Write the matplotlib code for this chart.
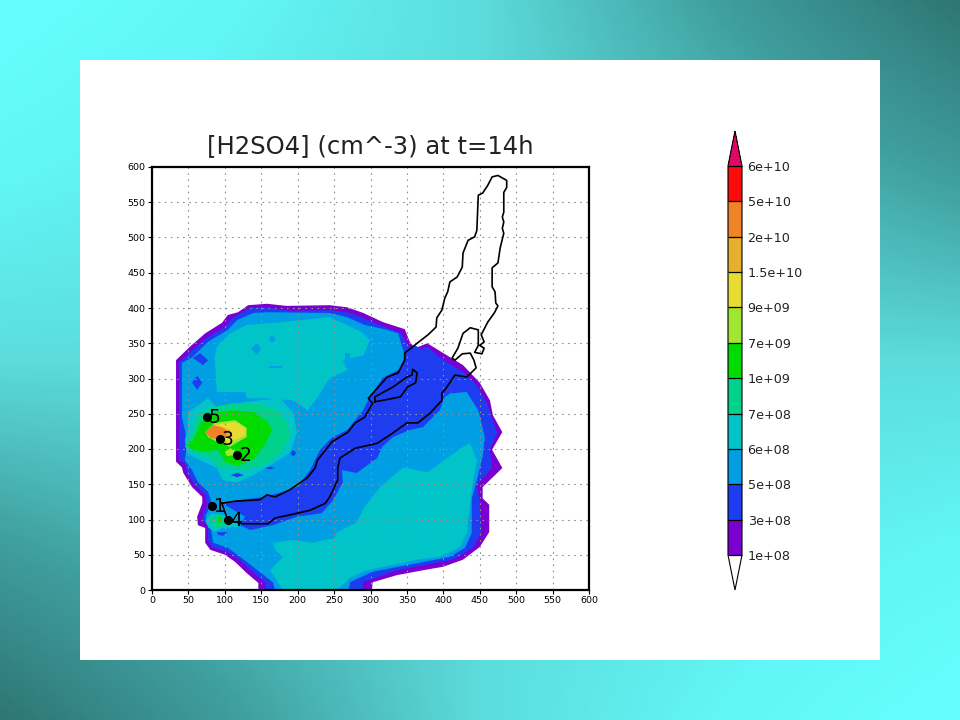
import numpy as np
import matplotlib
matplotlib.use('Agg')
from matplotlib import pyplot as plt
from matplotlib.colors import ListedColormap, BoundaryNorm, LinearSegmentedColormap
from matplotlib.cm import ScalarMappable
from matplotlib.patches import Rectangle

# contour levels and labels of the colour bar
levels = [1e8, 3e8, 5e8, 6e8, 7e8, 1e9, 7e9, 9e9, 1.5e10, 2e10, 5e10, 6e10]
level_labels = ['1e+08', '3e+08', '5e+08', '6e+08', '7e+08', '1e+09', '7e+09',
                '9e+09', '1.5e+10', '2e+10', '5e+10', '6e+10']
level_colors = ['#7a00d2', '#1e3cf0', '#009fe3', '#00c4c8', '#00d28c', '#00dc00',
                '#a0e632', '#e6dc32', '#e6af2d', '#f08228', '#fa0a0a']
over_color = '#dc0a64'

# contour regions, (x, y) in km
purple_zone = [(146,0),(146,10),(130,24),(114,40),(100,50),(80,57),(73,67),(73,88),(63,92),(62,104),
    (69,123),(69,132),(55,146),(43,166),(41,174),(33,182),(33,326),(52,345),(73,364),(96,379),
    (104,390),(118,394),(132,404),(158,406),(185,403),(244,404),(268,401),(290,393),(317,380),
    (347,370),(354,352),(361,343),(378,350),(400,336),(427,319),(450,294),(464,269),(468,248),
    (481,224),(467,199),(481,173),(454,146),(454,130),(463,121),(463,82),(450,61),(427,43),
    (400,33),(372,28),(336,21),(303,11),(302,0)]
blue_zone = [(157,0),(155,11),(135,28),(118,45),(103,54),(82,61),(77,71),(77,92),(70,95),(69,104),
    (76,123),(73,135),(59,149),(48,167),(45,180),(37,184),(37,323),(55,340),(77,359),(100,373),
    (110,386),(135,400),(158,401),(189,396),(244,397),(268,394),(290,386),(320,373),(343,364),
    (351,347),(361,337),(378,345),(395,330),(427,309),(446,291),(460,265),(474,223),(464,199),
    (467,173),(446,149),(450,128),(452,81),(441,60),(413,43),(372,35),(336,28),(290,11),(290,0)]
lightblue_zone = [(169,0),(166,11),(121,47),(104,60),(84,67),(80,92),(73,104),(82,123),(77,139),
    (63,153),(55,170),(45,184),(48,208),(45,227),(41,245),(41,322),(55,330),(77,352),(104,369),
    (117,383),(139,393),(158,394),(244,393),(268,387),(292,376),(323,369),(338,364),(346,336),
    (368,298),(413,279),(432,281),(448,255),(457,217),(454,189),(446,156),(439,130),(439,81),
    (430,60),(409,47),(364,38),(303,26),(272,11),(270,0)]
band_zone = [(96,123),(111,126),(152,132),(176,138),(199,146),(217,170),(231,199),(247,216),
    (268,227),(290,255),(299,274),(317,301),(338,312),(351,337),(361,347),(427,309),(413,281),
    (402,274),(395,255),(372,231),(354,227),(331,217),(316,203),(309,187),(281,166),(261,170),
    (262,153),(249,128),(233,109),(199,104),(166,92),(135,85),(121,92),(128,104)]
teal_north = [(89,345),(107,364),(130,376),(180,380),(244,387),(288,366),(299,354),(290,333),
    (262,326),(269,312),(244,301),(231,279),(214,255),(194,269),(152,272),(130,272),(128,281),
    (89,281),(86,330)]
teal_centre = [(49,252),(77,272),(89,259),(130,267),(176,272),(194,251),(199,223),(189,194),
    (158,174),(139,163),(117,153),(97,156),(89,173),(66,184),(48,194),(45,213),(49,227)]
teal_south = [(437,208),(427,203),(378,167),(345,174),(313,146),(292,118),(281,96),(254,82),
    (251,74),(221,67),(194,71),(166,67),(169,57),(180,47),(162,28),(180,0),(254,0),(272,18),
    (295,28),(364,43),(395,47),(423,61),(432,81),(437,123),(441,156),(446,184)]
teal_blob = [(73,99),(82,109),(103,106),(117,96),(118,89),(97,88),(86,82),(77,89)]
aqua_centre = [(45,203),(55,223),(62,248),(82,259),(110,265),(146,265),(173,255),(187,234),
    (189,216),(178,196),(155,177),(124,170),(91,174),(82,187),(59,194)]
aqua_blob = [(80,99),(91,109),(104,96),(96,89),(86,88)]
green_centre = [(49,206),(59,217),(66,237),(82,251),(110,255),(141,252),(159,238),(165,227),
    (155,206),(141,187),(118,176),(100,182),(91,199),(73,196),(55,199)]
green_blob = [(89,104),(96,104),(96,96),(91,95)]
yellowgreen_main = [(73,224),(86,237),(114,241),(130,230),(130,217),(118,210),(107,203),(97,208),
    (89,210),(77,217)]
yellowgreen_small = [(100,196),(107,201),(114,199),(111,191),(103,190)]
yellow_zone = [(86,234),(114,238),(128,230),(128,220),(114,213),(104,206),(100,216),(91,227)]
darkyellow_zone = [(96,231),(107,227),(111,217),(104,216),(99,223)]
orange_zone = [(73,224),(84,234),(96,231),(104,224),(100,216),(91,213),(80,216)]

# small isolated patches
lightblue_spots = [[(265,316),(272,316),(272,336),(265,336)],
    [(136,342),(144,350),(150,342),(144,334)], [(160,356),(165,362),(170,356),(165,350)],
    [(160,315),(178,315),(178,318),(160,318)]]
blue_spots = [[(56,329),(66,336),(77,326),(70,319)], [(62,304),(69,294),(62,284),(55,294)],
    [(108,163),(117,166),(126,163),(117,160)], [(155,173),(162,175),(169,173),(162,171)],
    [(194,199),(198,194),(194,189),(190,194)], [(89,82),(104,82),(98,77),(91,78)]]

# lake shore and island
lake_shore = [(96,123),(114,126),(148,128),(158,135),(169,132),(189,142),(213,159),(224,173),
    (227,184),(247,210),(258,217),(269,224),(279,237),(292,245),(303,265),(297,272),(323,302),
    (338,308),(347,326),(347,336),(364,350),(379,362),(390,373),(391,386),(398,397),(402,414),
    (406,423),(409,437),(419,444),(426,458),(427,478),(434,496),(443,501),(446,510),(448,560),
    (454,563),(461,574),(467,586),(475,588),(487,581),(487,571),(483,564),(483,536),(481,529),
    (483,522),(481,513),(483,506),(478,485),(475,464),(467,457),(467,430),(471,423),(472,407),
    (475,403),(470,393),(461,380),(452,362),(456,352),(450,347),(456,343),(453,335),(443,337),
    (448,347),(448,369),(437,372),(427,364),(420,343),(412,329),(416,326),(426,335),(437,336),
    (442,326),(445,315),(432,302),(416,305),(405,288),(398,279),(398,269),(382,251),(365,237),
    (350,237),(327,220),(309,208),(279,201),(258,187),(255,173),(255,156),(244,132),(238,123),
    (217,113),(187,106),(169,102),(159,94),(125,94),(104,99),(96,123)]
island_shore = [(306,267),(306,274),(331,288),(350,302),(357,305),(358,313),(364,308),(362,294),
    (351,288),(341,274),(317,269),(306,267)]

# numbered stations
station_names = ['1', '2', '3', '4', '5']
station_x = [82, 117, 93, 105, 75]
station_y = [119, 191, 214, 99, 245]

fig = plt.figure(figsize=(9.6, 7.2), dpi=100)

# background gradient and white panel
bg = fig.add_axes([0, 0, 1, 1], zorder=-1)
u, v = np.meshgrid(np.linspace(0, 1, 200), np.linspace(0, 1, 200))
shade = u * v + (1 - u) * (1 - v)
bg_cmap = LinearSegmentedColormap.from_list('bg', ['#2e7674', '#409f9f', '#5cdcdc', '#62f6f6', '#66ffff'])
bg.imshow(shade, cmap=bg_cmap, aspect='auto', extent=[0, 1, 1, 0], vmin=0, vmax=1)
bg.add_patch(Rectangle((80 / 960, 60 / 720), 800 / 960, 600 / 720, color='white', lw=0))
bg.set_axis_off()

ax = fig.add_axes([152 / 960, 130 / 720, 437 / 960, 423 / 720])

# filled regions, lowest level first
layers = [(purple_zone, 0), (blue_zone, 1), (lightblue_zone, 2), (band_zone, 1),
          (teal_north, 3), (teal_centre, 3), (teal_south, 3), (teal_blob, 3),
          (aqua_centre, 4), (aqua_blob, 4), (green_centre, 5), (green_blob, 5),
          (yellowgreen_main, 6), (yellowgreen_small, 6), (yellow_zone, 7),
          (darkyellow_zone, 8), (orange_zone, 9)]
for zone, idx in layers:
    xy = np.array(zone)
    ax.fill(xy[:, 0], xy[:, 1], color=level_colors[idx], lw=0, zorder=2)
for spot in lightblue_spots:
    xy = np.array(spot)
    ax.fill(xy[:, 0], xy[:, 1], color=level_colors[2], lw=0, zorder=2)
for spot in blue_spots:
    xy = np.array(spot)
    ax.fill(xy[:, 0], xy[:, 1], color=level_colors[1], lw=0, zorder=2)

for shore in [lake_shore, island_shore]:
    xy = np.array(shore)
    ax.plot(xy[:, 0], xy[:, 1], color='black', lw=1.2, zorder=4)

ax.plot(station_x, station_y, 'o', color='black', ms=5.5, zorder=5)
for name, sx, sy in zip(station_names, station_x, station_y):
    ax.annotate(name, (sx, sy), xytext=(1.5, 0), textcoords='offset points', fontsize=13.5,
                va='center', ha='left', color='black', zorder=6)

ax.set_xlim(0, 600)
ax.set_ylim(0, 600)
ax.set_xticks(np.arange(0, 601, 50))
ax.set_yticks(np.arange(0, 601, 50))
ax.tick_params(labelsize=6.8, length=3, width=0.8, pad=1.5, colors='black')
ax.grid(True, color='#909090', lw=0.8, linestyle=(0, (1.5, 4)), zorder=3)
ax.set_axisbelow(False)
for spine in ax.spines.values():
    spine.set_linewidth(1.6)
    spine.set_zorder(7)

fig.text(370.5 / 960, 1 - 146 / 720, '[H2SO4] (cm^-3) at t=14h', fontsize=17.5,
         ha='center', va='center', color='#222222')

# colour bar
cmap = ListedColormap(level_colors)
cmap.set_under('white')
cmap.set_over(over_color)
norm = BoundaryNorm(levels, cmap.N)
cax = fig.add_axes([728 / 960, 130 / 720, 14 / 960, 459 / 720])
cbar = fig.colorbar(ScalarMappable(norm=norm, cmap=cmap), cax=cax, extend='both',
                    spacing='uniform', extendfrac=0.09, drawedges=True)
cbar.set_ticks(levels)
cbar.set_ticklabels(level_labels)
cbar.ax.tick_params(length=0, labelsize=9.2, pad=4, colors='#222222')
cbar.ax.minorticks_off()
cbar.outline.set_linewidth(0.8)
cbar.dividers.set_linewidth(0.9)

fig.savefig('out.png', dpi=100)
